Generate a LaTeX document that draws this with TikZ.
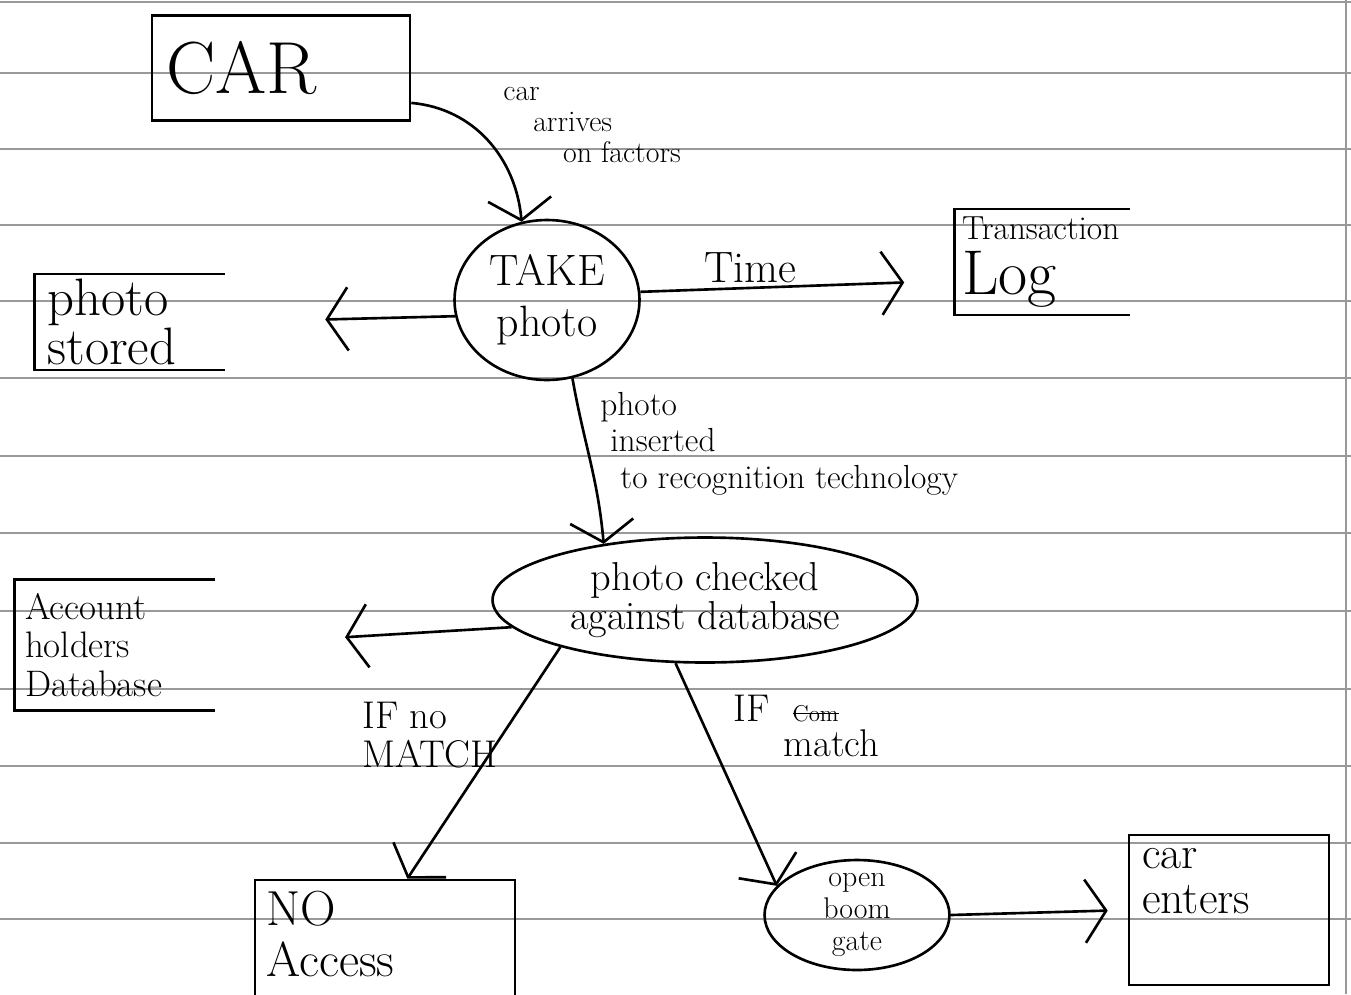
\documentclass[tikz,border=0pt]{standalone}
\usepackage{fontspec}
\usetikzlibrary{arrows.meta,shapes,calc}
\newcommand\crossout[1]{\setbox0\hbox{#1}\rlap{\rule[0.4ex]{\wd0}{1pt}}\box0}
\tikzstyle{entity}=[draw,line width=1.5pt,rectangle,inner sep=0pt]
\tikzstyle{store}=[rectangle,inner sep=0pt,align=left]
\tikzstyle{process}=[draw,line width=1.5pt,ellipse,inner sep=0pt,align=center]
\tikzstyle{edge} = [draw,line width=1.5pt,-{Straight Barb[length=12pt,width=36pt]}]
\tikzstyle{note}=[font=\fontsize{19}{21}\selectfont,align=left,inner sep=2pt]
\tikzstyle{rule}=[draw=black!40,line width=0.8pt]

\begin{document}
\begin{tikzpicture}[x=0.02cm,y=0.02cm]

            \clip (0,0) rectangle (1351,-994);
            \foreach \y in {2,73,149,225,301,378,456,533,611,689,766,843,919}
                \path[rule] (0,-\y) -- (1351,-\y);
            \path[rule] (1346,0) -- (1346,-994);

            \node[entity,minimum width=5.16cm,minimum height=2.1cm,text width=4.6cm,align=left,font=\fontsize{42}{42}\selectfont] (car) at (281,-68) {CAR};
            \node[process,minimum width=3.7cm,minimum height=3.2cm,font=\fontsize{25}{29}\selectfont] (take) at (547,-300) {TAKE\\photo};
            \node[store,minimum width=3.5cm,minimum height=2.1cm,text width=3.2cm] (tlog) at (1042,-262) {{\fontsize{19}{19}\selectfont Transaction}\\[6pt]{\fontsize{36}{36}\selectfont Log}};
            \node[store,minimum width=3.8cm,minimum height=1.9cm,text width=3.3cm,font=\fontsize{30}{25}\selectfont] (stored) at (130,-322) {photo\\stored};
            \node[process,minimum width=8.5cm,minimum height=2.5cm,font=\fontsize{23}{22}\selectfont] (check) at (705,-600) {photo checked\\against database};
            \node[store,minimum width=4cm,minimum height=2.6cm,text width=3.6cm,font=\fontsize{21}{22}\selectfont] (acct) at (115,-645) {Account\\holders\\Database};
            \node[entity,minimum width=5.2cm,minimum height=2.4cm] (noacc) at (385,-940) {};
            \node[note,anchor=north west,inner sep=7pt,font=\fontsize{28}{29}\selectfont] at (noacc.north west) {NO\\Access};
            \node[process,minimum width=3.7cm,minimum height=2.2cm] (gate) at (857,-915) {};
            \node[note,align=center,font=\fontsize{17}{18}\selectfont] at (gate) {open\\boom\\gate};
            \node[entity,minimum width=4cm,minimum height=3cm] (enters) at (1229,-910) {};
            \node[note,anchor=north west,inner sep=8pt,font=\fontsize{26}{26}\selectfont] at (enters.north west) {car\\enters};

            \draw[line width=1.5pt] (tlog.north east) -- (tlog.north west) -- (tlog.south west) -- (tlog.south east);
            \draw[line width=1.5pt] (stored.north east) -- (stored.north west) -- (stored.south west) -- (stored.south east);
            \draw[line width=1.5pt] (acct.north east) -- (acct.north west) -- (acct.south west) -- (acct.south east);

            \path[edge] (car.-15) to[out=-5,in=95] node[note,pos=0.5,anchor=north west,xshift=6pt,yshift=33pt,font=\fontsize{17}{17.5}\selectfont] {car\\\quad arrives\\\qquad on factors} (take.108);
            \path[edge,shorten >=1cm] (take.5) -- node[note,pos=0.35,above,font=\fontsize{25}{25}\selectfont] {Time} (tlog.192);
            \path[edge,shorten >=2cm] (take.190) -- (stored.east);
            \path[edge] (take.-72) to[out=-80,in=95] node[note,pos=0.35,anchor=north west,xshift=6pt,yshift=29pt] {photo\\\ inserted\\\ \ to recognition technology} (check.151);
            \path[edge,shorten >=2.6cm] (check.188) -- (acct.east);
            \path[edge] (check.198) -- node[note,pos=0.38,left,font=\fontsize{22}{22}\selectfont] {IF no\\MATCH} (noacc.70);
            \path[edge] (check.245) -- node[note,pos=0.28,right,xshift=14pt,font=\fontsize{22}{20}\selectfont] {IF \ \crossout{\fontsize{13}{13}\selectfont Com}\\\hspace{1.3em}match} (gate.160);
            \path[edge,shorten >=0.4cm] (gate.east) -- (enters.west);

        \end{tikzpicture}
\end{document}
